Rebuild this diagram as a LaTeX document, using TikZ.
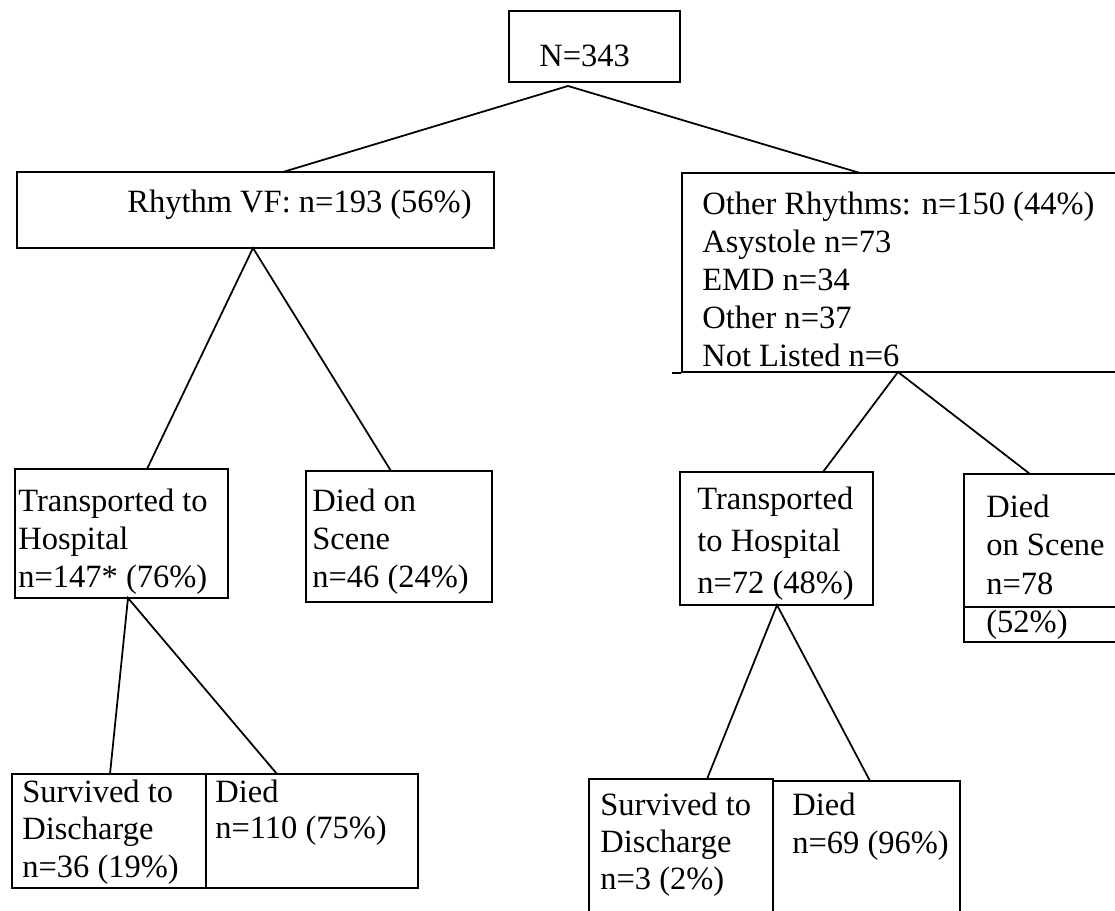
\documentclass[tikz,border=0pt]{standalone}
\usepackage{fontspec}
\setmainfont{Liberation Serif}
\usetikzlibrary{fit}

\tikzset{
  box/.style={draw, line width=1pt, inner sep=0pt},
  txt/.style={anchor=base west, inner sep=0pt, font=\fontsize{18.5}{22}\selectfont},
  link/.style={line width=1pt},
}

\begin{document}
\begin{tikzpicture}[x=0.02cm,y=-0.02cm]
\useasboundingbox (0,0) rectangle (1115,911);

% level 0
\node[box, fit={(509,11) (680,82)}] (all) {};
\node[txt] (alltxt) at (539,67) {N=343};

% level 1
\node[box, fit={(17,172) (494,248)}] (vf) {};
\node[txt] (vftxt) at (127,213) {Rhythm VF: n=193 (56\%)};

\node[box, fit={(682,173) (1130,372)}] (oth) {};
\draw[link] (oth.south west) -- ++(-9,0);
\foreach \t [count=\i] in {Other Rhythms: n=150 (44\%), Asystole n=73, EMD n=34, Other n=37, Not Listed n=6}
  \node[txt] (othtxt\i) at (702,{215+38*(\i-1)}) {\t};

% level 2
\node[box, fit={(15,469) (228,598)}] (vftr) {};
\foreach \t [count=\i] in {Transported to, Hospital, n=147* (76\%)}
  \node[txt] (vftrtxt\i) at (18,{512+37.5*(\i-1)}) {\t};

\node[box, fit={(306,471) (492,602)}] (vfds) {};
\foreach \t [count=\i] in {Died on, Scene, n=46 (24\%)}
  \node[txt] (vfdstxt\i) at (312,{512+37.5*(\i-1)}) {\t};

\node[box, fit={(680,472) (873,605)}] (othtr) {};
\foreach \t [count=\i] in {Transported, to Hospital, n=72 (48\%)}
  \node[txt] (othtrtxt\i) at (697,{510+41.5*(\i-1)}) {\t};

\node[box, fit={(964,474) (1130,642)}] (othds) {};
\draw[link] (964,607) -- (1130,607);
\foreach \t [count=\i] in {Died, on Scene, n=78, (52\%)}
  \node[txt] (othdstxt\i) at (986,{518+38*(\i-1)}) {\t};

% level 3
\node[box, fit={(12,774) (206,888)}] (vfsv) {};
\foreach \t [count=\i] in {Survived to, Discharge, n=36 (19\%)}
  \node[txt] (vfsvtxt\i) at (22,{802+37.5*(\i-1)}) {\t};

\node[box, fit={(206,774) (418,888)}] (vfdd) {};
\foreach \t [count=\i] in {Died, n=110 (75\%)}
  \node[txt] (vfddtxt\i) at (215,{802+36*(\i-1)}) {\t};

\node[box, fit={(589,779) (773,920)}] (othsv) {};
\foreach \t [count=\i] in {Survived to, Discharge, n=3 (2\%)}
  \node[txt] (othsvtxt\i) at (600,{815+37*(\i-1)}) {\t};

\node[box, fit={(773,781) (960,920)}] (othdd) {};
\foreach \t [count=\i] in {Died, n=69 (96\%)}
  \node[txt] (othddtxt\i) at (792,{815+38*(\i-1)}) {\t};

% branch points
\coordinate (allapex) at (568,86);
\coordinate (vfapex) at (253,248);
\coordinate (othapex) at (898,372);
\coordinate (vftrapex) at (128,598);
\coordinate (othtrapex) at (777,605);

\coordinate (vfin) at (283,172);
\coordinate (othin) at (860,173);
\coordinate (vftrin) at (147,469);
\coordinate (vfdsin) at (391,471);
\coordinate (othtrin) at (823,472);
\coordinate (othdsin) at (1030,474);
\coordinate (vfsvin) at (110,774);
\coordinate (vfddin) at (277,774);
\coordinate (othsvin) at (707,779);
\coordinate (othddin) at (870,781);

% connectors
\draw[link] (vfin) -- (allapex) -- (othin);
\draw[link] (vftrin) -- (vfapex) -- (vfdsin);
\draw[link] (othtrin) -- (othapex) -- (othdsin);
\draw[link] (vfsvin) -- (vftrapex) -- (vfddin);
\draw[link] (othsvin) -- (othtrapex) -- (othddin);

\end{tikzpicture}
\end{document}
